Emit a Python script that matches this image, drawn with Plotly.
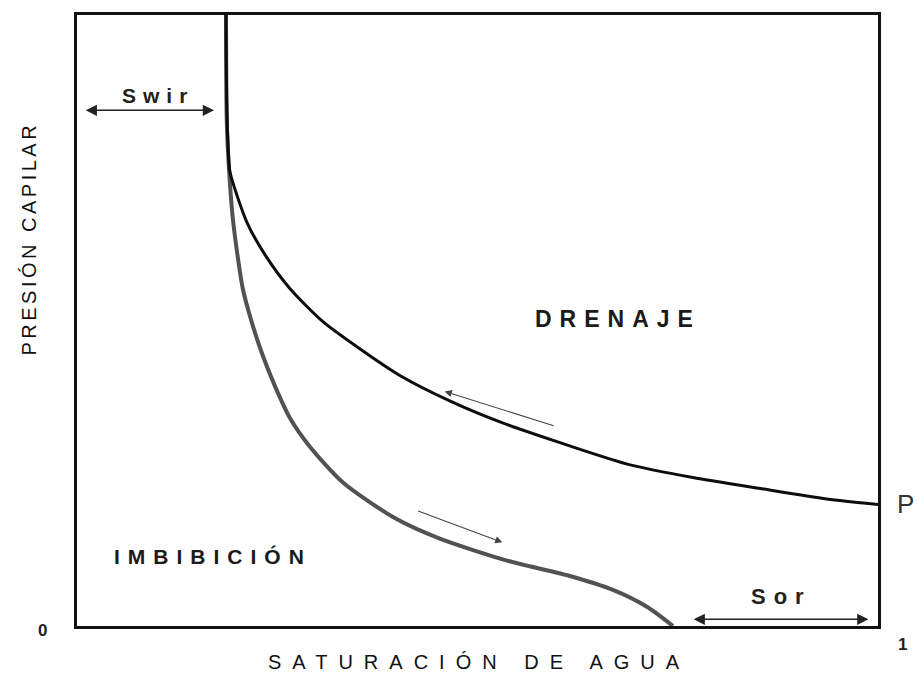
import plotly.graph_objects as go

# Water saturation (fraction) and capillary pressure (relative units)
drainage_sw = [0.186, 0.187, 0.189, 0.191, 0.212, 0.235, 0.266, 0.307, 0.357, 0.403,
               0.466, 0.528, 0.603, 0.687, 0.769, 0.853, 0.936, 1.0]
drainage_pc = [1.0, 0.857, 0.775, 0.743, 0.661, 0.607, 0.552, 0.498, 0.450, 0.410,
               0.368, 0.334, 0.300, 0.265, 0.243, 0.225, 0.208, 0.199]

imbibition_sw = [0.186, 0.187, 0.190, 0.195, 0.207, 0.218, 0.231, 0.247, 0.266, 0.291,
                 0.332, 0.395, 0.453, 0.537, 0.612, 0.669, 0.712, 0.744]
imbibition_pc = [1.0, 0.824, 0.743, 0.661, 0.552, 0.498, 0.446, 0.393, 0.340, 0.293,
                 0.235, 0.178, 0.143, 0.107, 0.083, 0.059, 0.031, 0.0]

swir = 0.186          # irreducible water saturation
sor_start = 0.768     # start of residual oil span
axis_labels = ["0", "1"]

FONT = "Liberation Sans, Arial, Helvetica, sans-serif"

fig = go.Figure()
fig.add_trace(go.Scatter(x=imbibition_sw, y=imbibition_pc, mode="lines",
                         line=dict(color="#525252", width=4, shape="spline", smoothing=0.7),
                         showlegend=False, hoverinfo="skip"))
fig.add_trace(go.Scatter(x=drainage_sw, y=drainage_pc, mode="lines",
                         line=dict(color="#0d0d0d", width=3, shape="spline", smoothing=0.7),
                         showlegend=False, hoverinfo="skip"))

fig.update_layout(
    width=916, height=667,
    margin=dict(l=69, r=46, t=4, b=49),
    paper_bgcolor="white", plot_bgcolor="white",
    showlegend=False,
    font=dict(family=FONT, color="#1a1a1a"),
)
fig.update_xaxes(range=[0, 1], showgrid=False, zeroline=False, showticklabels=False,
                 ticks="", showline=True, mirror=True, linecolor="#111111", linewidth=2.5)
fig.update_yaxes(range=[0, 1], showgrid=False, zeroline=False, showticklabels=False,
                 ticks="", showline=True, mirror=True, linecolor="#111111", linewidth=2.5)


def spaced(t, px, bold=False):
    s = f'<span style="letter-spacing:{px}px">{t}</span>'
    return f"<b>{s}</b>" if bold else s


def label(x, y, text, size, color="#1a1a1a", ref="x", **kw):
    fig.add_annotation(x=x, y=y, xref=ref, yref=("y" if ref == "x" else "paper"),
                       text=text, showarrow=False, xanchor="center", yanchor="middle",
                       font=dict(size=size, color=color), **kw)


# Swir double arrow
fig.add_annotation(x=swir - 0.015, y=0.844, ax=0.009, ay=0.844, xref="x", yref="y",
                   axref="x", ayref="y", text="", showarrow=True, arrowside="end+start",
                   arrowhead=2, arrowsize=1.6, arrowwidth=1.4, arrowcolor="#222222")
label(swir / 2 + 0.008, 0.868, spaced("Swir", 7, True), 21, "#222222")

# Sor double arrow
fig.add_annotation(x=0.988, y=0.011, ax=sor_start, ay=0.011, xref="x", yref="y",
                   axref="x", ayref="y", text="", showarrow=True, arrowside="end+start",
                   arrowhead=2, arrowsize=1.6, arrowwidth=1.4, arrowcolor="#222222")
label(0.879, 0.048, spaced("Sor", 8, True), 22, "#222222")

# Direction arrows
fig.add_annotation(x=0.459, y=0.384, ax=0.597, ay=0.327, xref="x", yref="y",
                   axref="x", ayref="y", text="", showarrow=True, arrowhead=2,
                   arrowsize=1.3, arrowwidth=1.1, arrowcolor="#444444")
fig.add_annotation(x=0.531, y=0.137, ax=0.424, ay=0.189, xref="x", yref="y",
                   axref="x", ayref="y", text="", showarrow=True, arrowhead=2,
                   arrowsize=1.3, arrowwidth=1.1, arrowcolor="#444444")

# Region labels
label(0.675, 0.502, spaced("DRENAJE", 8, True), 23)
label(0.170, 0.114, spaced("IMBIBICIÓN", 8, True), 21)

# P and axis end labels
label(1.034, 0.200, "P", 26, "#333333", ref="paper")
label(-0.043, -0.007, "<b>" + axis_labels[0] + "</b>", 17, "#222222", ref="paper")
label(1.031, -0.031, "<b>" + axis_labels[1] + "</b>", 17, "#222222", ref="paper")

# Axis titles
label(0.502, -0.059, spaced("SATURACIÓN DE AGUA", 11), 20, "#111111", ref="paper")
label(-0.060, 0.634, spaced("PRESIÓN CAPILAR", 3.5), 20, "#111111", ref="paper", textangle=-90)

fig.write_html("out.html")
